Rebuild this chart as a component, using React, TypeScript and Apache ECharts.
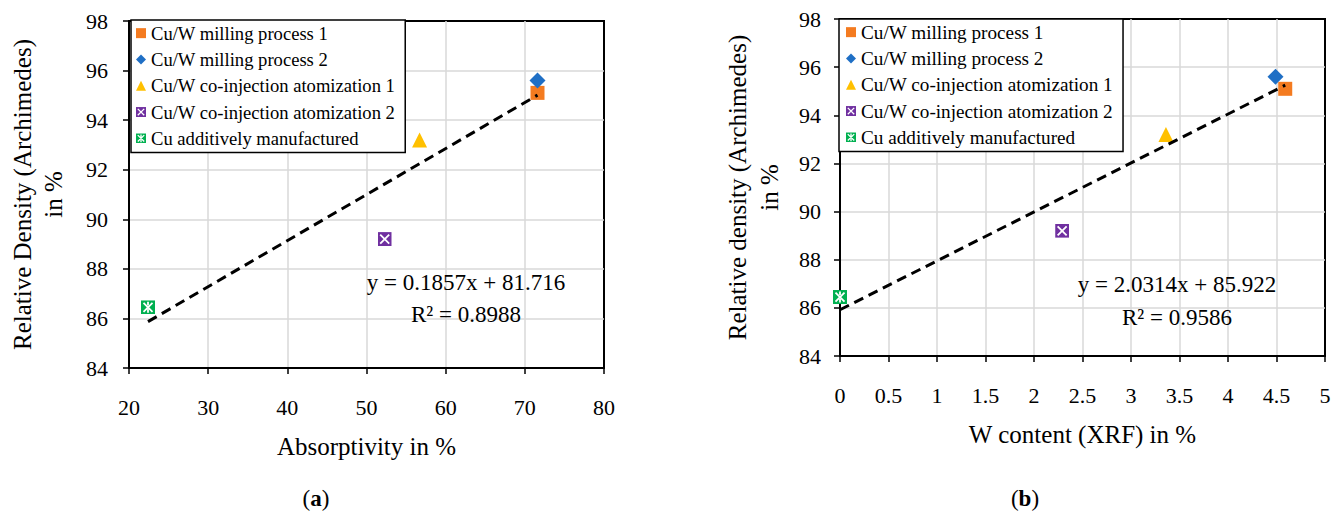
import React, { useEffect, useRef } from "react";
import * as echarts from "echarts";

const FONT = "'Liberation Serif', serif";

const seriesNames = [
  "Cu/W milling process 1",
  "Cu/W milling process 2",
  "Cu/W co-injection atomization 1",
  "Cu/W co-injection atomization 2",
  "Cu additively manufactured",
];
const absorptivity = [71.6, 71.6, 56.7, 52.3, 22.4];
const wContent = [4.59, 4.49, 3.36, 2.29, 0];
const density = [95.1, 95.6, 93.2, 89.2, 86.45];
const colors = ["#F47B20", "#1F6FC5", "#FFC000", "#7030A0", "#00B050"];

const trendA = [
  [22.4, 85.87],
  [71.6, 95.01],
];
const trendB = [
  [0, 85.92],
  [4.59, 95.25],
];
const eqA = ["y = 0.1857x + 81.716", "R² = 0.8988"];
const eqB = ["y = 2.0314x + 85.922", "R² = 0.9586"];

const xTicksA = { min: 20, max: 80, interval: 10 };
const xTicksB = { min: 0, max: 5, interval: 0.5 };
const yTicks = { min: 84, max: 98, interval: 2 };

function xBox(fill: string, bar: boolean) {
  const s =
    `<svg xmlns='http://www.w3.org/2000/svg' width='14' height='14' viewBox='0 0 14 14'>` +
    `<rect x='0' y='0' width='14' height='14' fill='${fill}'/>` +
    `<path d='M2.5 2.5L11.5 11.5M11.5 2.5L2.5 11.5${bar ? "M7 1.5V5M7 9V12.5" : ""}' stroke='#ffffff' stroke-width='1.8' fill='none'/>` +
    `</svg>`;
  return "image://data:image/svg+xml;charset=utf-8," + encodeURIComponent(s);
}

const symbols = ["rect", "diamond", "triangle", xBox(colors[3], false), xBox(colors[4], true)];
const sizes = [14, 16, 15, 14, 14];

export default function App() {
  const ref = useRef<HTMLDivElement>(null);
  useEffect(() => {
    document.body.style.margin = "0";
    const chart = echarts.init(ref.current!, null, { renderer: "svg" });

    const axisCommon = {
      axisLine: { show: true, lineStyle: { color: "#000", width: 2 } },
      axisTick: { show: true, length: 6, lineStyle: { color: "#000", width: 1.5 } },
      splitLine: { show: true, showMinLine: false, showMaxLine: false, lineStyle: { color: "#D9D9D9", width: 1.5 } },
      axisLabel: { color: "#000", fontFamily: FONT, fontSize: 22 },
      nameTextStyle: { color: "#000", fontFamily: FONT, fontSize: 25 },
    };

    const series: any[] = [];
    [0, 1].forEach((g) => {
      const xs = g === 0 ? absorptivity : wContent;
      seriesNames.forEach((n, i) => {
        series.push({
          type: "scatter",
          name: n,
          xAxisIndex: g,
          yAxisIndex: g,
          symbol: symbols[i],
          symbolSize: sizes[i],
          itemStyle: { color: colors[i], opacity: 1 },
          data: [[xs[i], density[i]]],
          z: i === 1 ? 3 : 2,
        });
      });
      series.push({
        type: "line",
        name: "trend" + g,
        xAxisIndex: g,
        yAxisIndex: g,
        data: g === 0 ? trendA : trendB,
        symbol: "none",
        lineStyle: { color: "#000", width: 3, type: [10, 6] },
        z: 5,
      });
    });

    const legendCommon = {
      orient: "vertical",
      data: seriesNames,
      selectedMode: false,
      backgroundColor: "#fff",
      borderColor: "#000",
      borderWidth: 1.5,
      borderRadius: 0,
      itemWidth: 10,
      itemHeight: 10,
      itemGap: 6,
      z: 10,
    };

    const eqText = (lines: string[], cx: number, y1: number, y2: number) => [
      { type: "text", x: cx, y: y1, style: { text: lines[0], fill: "#000", font: `23px ${FONT}`, textAlign: "center", textVerticalAlign: "middle" }, z: 20 },
      { type: "text", x: cx, y: y2, style: { text: lines[1], fill: "#000", font: `23px ${FONT}`, textAlign: "center", textVerticalAlign: "middle" }, z: 20 },
    ];

    const caption = (letter: string, cx: number, cy: number) => ({
      type: "text",
      x: cx,
      y: cy,
      style: {
        text: `({b|${letter}})`,
        fill: "#000",
        font: `23px ${FONT}`,
        textAlign: "center",
        textVerticalAlign: "middle",
        rich: { b: { fontWeight: "bold", fontFamily: FONT, fontSize: 23, fill: "#000" } },
      },
    });

    chart.setOption({
      animation: false,
      grid: [
        { left: 129, top: 21, width: 475, height: 347, show: true, borderColor: "#000", borderWidth: 2, backgroundColor: "transparent" },
        { left: 840, top: 19, width: 485, height: 337, show: true, borderColor: "#000", borderWidth: 2, backgroundColor: "transparent" },
      ],
      xAxis: [
        {
          type: "value",
          gridIndex: 0,
          ...xTicksA,
          ...axisCommon,
          axisLabel: { ...axisCommon.axisLabel, margin: 28 },
          name: "Absorptivity in %",
          nameLocation: "middle",
          nameGap: 66,
        },
        {
          type: "value",
          gridIndex: 1,
          ...xTicksB,
          ...axisCommon,
          axisLabel: { ...axisCommon.axisLabel, margin: 28 },
          name: "W content (XRF) in %",
          nameLocation: "middle",
          nameGap: 66,
        },
      ],
      yAxis: [
        {
          type: "value",
          gridIndex: 0,
          ...yTicks,
          ...axisCommon,
          axisLabel: { ...axisCommon.axisLabel, margin: 21 },
          name: "Relative Density (Archimedes)\nin %",
          nameLocation: "middle",
          nameRotate: 90,
          nameGap: 60,
          nameTextStyle: { ...axisCommon.nameTextStyle, lineHeight: 31, align: "center" },
        },
        {
          type: "value",
          gridIndex: 1,
          ...yTicks,
          ...axisCommon,
          axisLabel: { ...axisCommon.axisLabel, margin: 19 },
          name: "Relative density (Archimedes)\nin %",
          nameLocation: "middle",
          nameRotate: 90,
          nameGap: 55,
          nameTextStyle: { ...axisCommon.nameTextStyle, lineHeight: 32, align: "center" },
        },
      ],
      legend: [
        {
          ...legendCommon,
          left: 131,
          top: 20,
          padding: [3, 10, 4, 5],
          textStyle: { color: "#000", fontFamily: FONT, fontSize: 18.6, lineHeight: 20.3 },
        },
        {
          ...legendCommon,
          left: 839,
          top: 19,
          padding: [3, 10, 4, 7],
          textStyle: { color: "#000", fontFamily: FONT, fontSize: 19.2, lineHeight: 20.3 },
        },
      ],
      graphic: [
        ...eqText(eqA, 466, 282, 314),
        ...eqText(eqB, 1177, 284, 317),
        caption("a", 316, 498),
        caption("b", 1025, 498),
      ],
      series,
    });
    return () => chart.dispose();
  }, []);
  return <div ref={ref} style={{ width: 1344, height: 520 }} />;
}
